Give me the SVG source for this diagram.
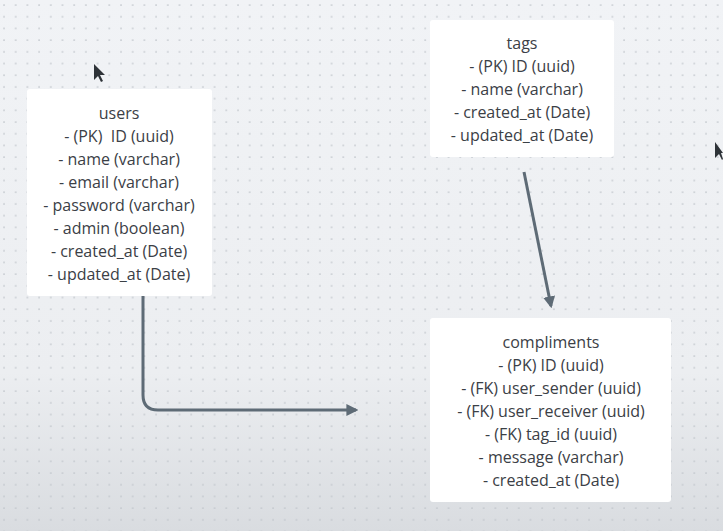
<svg xmlns="http://www.w3.org/2000/svg" width="723" height="531" viewBox="0 0 723 531">
<defs>
<pattern id="dots" width="11.7" height="11.7" patternUnits="userSpaceOnUse" x="2" y="3">
<circle cx="2" cy="2" r="0.85" fill="#bfc4ca"/>
</pattern>
<linearGradient id="bg" x1="0" y1="0" x2="0" y2="1">
<stop offset="0" stop-color="#f1f3f6"/>
<stop offset="0.7" stop-color="#eceef1"/>
<stop offset="1" stop-color="#d9dce0"/>
</linearGradient>
<marker id="arr" viewBox="0 0 10 10" refX="8" refY="5" markerWidth="4" markerHeight="4" orient="auto" markerUnits="strokeWidth">
<path d="M0,0 L10,5 L0,10 z" fill="#5e6b76"/>
</marker>
<style>
.box{fill:#ffffff;}
.t{font-family:"Open Sans",Lato,sans-serif;font-size:16px;fill:#3b4046;text-anchor:middle;}
.c{fill:none;stroke:#5e6b76;stroke-width:3;}
</style>
</defs>
<rect width="723" height="531" fill="url(#bg)"/>
<rect width="723" height="531" fill="url(#dots)"/>
<g id="connectors">
<path class="c" d="M143,284 V395 Q143,410 158,410 H356" marker-end="url(#arr)"/>
<path class="c" d="M524,172 L551,306" marker-end="url(#arr)"/>
</g>
<g id="users">
<rect class="box" x="27" y="89" width="185" height="207" rx="3"/>
<text class="t" x="119" y="119">users</text>
<text class="t" x="119" y="142">- (PK)&#160; ID (uuid)</text>
<text class="t" x="119" y="165">- name (varchar)</text>
<text class="t" x="119" y="188">- email (varchar)</text>
<text class="t" x="119" y="211">- password (varchar)</text>
<text class="t" x="119" y="234">- admin (boolean)</text>
<text class="t" x="119" y="257">- created_at (Date)</text>
<text class="t" x="119" y="280">- updated_at (Date)</text>
</g>
<g id="tags">
<rect class="box" x="430" y="20" width="184" height="137" rx="3"/>
<text class="t" x="522" y="49">tags</text>
<text class="t" x="522" y="72">- (PK) ID (uuid)</text>
<text class="t" x="522" y="95">- name (varchar)</text>
<text class="t" x="522" y="118">- created_at (Date)</text>
<text class="t" x="522" y="141">- updated_at (Date)</text>
</g>
<g id="compliments">
<rect class="box" x="430" y="318" width="241" height="184" rx="3"/>
<text class="t" x="551" y="348">compliments</text>
<text class="t" x="551" y="371">- (PK) ID (uuid)</text>
<text class="t" x="551" y="394">- (FK) user_sender (uuid)</text>
<text class="t" x="551" y="417">- (FK) user_receiver (uuid)</text>
<text class="t" x="551" y="440">- (FK) tag_id (uuid)</text>
<text class="t" x="551" y="463">- message (varchar)</text>
<text class="t" x="551" y="486">- created_at (Date)</text>
</g>
<g id="cursors" fill="#2e3338">
<path d="M94,64 L94,80 L98,76 L101,82 L103,81 L100,75 L105,75 z"/>
<path d="M715,142 L715,158 L719,154 L722,160 L723,159 L721,153 L723,153 z"/>
</g>
</svg>
